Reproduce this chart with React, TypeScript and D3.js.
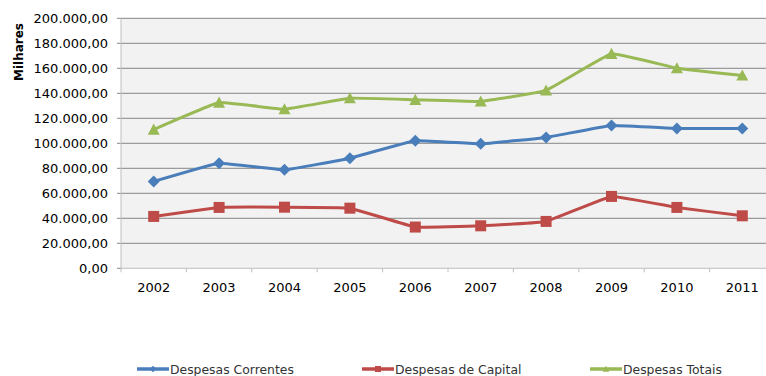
import React from "react";
import * as d3 from "d3";

const years = ["2002", "2003", "2004", "2005", "2006", "2007", "2008", "2009", "2010", "2011"];
const correntes = [69500, 84100, 78800, 88100, 102000, 99600, 104700, 114300, 111900, 111900];
const capital = [41500, 48700, 48900, 48100, 33000, 34000, 37500, 57500, 48700, 42000];
const totais = [111000, 132600, 127300, 136100, 134800, 133500, 142300, 171600, 160100, 154300];
const yTicks = [0, 20000, 40000, 60000, 80000, 100000, 120000, 140000, 160000, 180000, 200000];
const seriesNames = ["Despesas Correntes", "Despesas de Capital", "Despesas Totais"];

const W = 766, H = 376;
const left = 121, top = 18.3, bottom = 268.3, bandW = 65.4;

const fmt = (v: number) => {
  const s = Math.round(v).toString().replace(/\B(?=(\d{3})+(?!\d))/g, ".");
  return s + ",00";
};

function Marker({ type, x, y, color, s = 1 }: { type: string; x: number; y: number; color: string; s?: number }) {
  if (type === "diamond") {
    const r = 6 * s;
    return <path d={`M${x},${y - r}L${x + r},${y}L${x},${y + r}L${x - r},${y}Z`} fill={color} />;
  }
  if (type === "square") {
    const r = 5.5 * s;
    return <rect x={x - r} y={y - r} width={2 * r} height={2 * r} fill={color} />;
  }
  const r = 6 * s;
  return <path d={`M${x},${y - r}L${x + r},${y + r * 0.85}L${x - r},${y + r * 0.85}Z`} fill={color} />;
}

export default function App() {
  const x = d3.scaleBand<string>().domain(years).range([left, left + bandW * years.length]);
  const y = d3.scaleLinear().domain([0, 200000]).range([bottom, top]);
  const line = d3
    .line<number>()
    .x((_, i) => (x(years[i]) as number) + x.bandwidth() / 2)
    .y((d) => y(d))
    .curve(d3.curveCardinal.tension(0.75));

  const series = [
    { name: seriesNames[0], data: correntes, color: "#4A7EBB", marker: "diamond" },
    { name: seriesNames[1], data: capital, color: "#BE4B48", marker: "square" },
    { name: seriesNames[2], data: totais, color: "#98B954", marker: "triangle" },
  ];
  const legendX = [137, 362, 590];
  const font = "Verdana, 'DejaVu Sans', sans-serif";

  return (
    <svg width={W} height={H} style={{ position: "absolute", left: 0, top: 0, background: "#fff" }}>
      <rect x={left} y={top} width={bandW * years.length} height={bottom - top} fill="#F2F2F2" />
      {yTicks.map((t) => (
        <g key={t}>
          {t > 0 && (
            <line x1={left} x2={left + bandW * years.length} y1={y(t)} y2={y(t)} stroke="#868686" strokeWidth={1} />
          )}
          <line x1={left - 4} x2={left} y1={y(t)} y2={y(t)} stroke="#868686" strokeWidth={1} />
          <text x={108} y={y(t) + 4.5} textAnchor="end" fontFamily={font} fontSize={13} fill="#000">
            {fmt(t)}
          </text>
        </g>
      ))}
      <line x1={left} x2={left} y1={top} y2={bottom + 4} stroke="#BFBFBF" strokeWidth={1} />
      <line x1={left} x2={left + bandW * years.length} y1={bottom} y2={bottom} stroke="#BFBFBF" strokeWidth={1} />
      {years.map((yr) => (
        <g key={yr}>
          <line
            x1={(x(yr) as number) + bandW}
            x2={(x(yr) as number) + bandW}
            y1={bottom}
            y2={bottom + 4}
            stroke="#BFBFBF"
          />
          <text
            x={(x(yr) as number) + x.bandwidth() / 2}
            y={292}
            textAnchor="middle"
            fontFamily={font}
            fontSize={13}
            fill="#000"
          >
            {yr}
          </text>
        </g>
      ))}
      <text
        transform="translate(23,52) rotate(-90)"
        textAnchor="middle"
        fontFamily={font}
        fontSize={12}
        fontWeight="bold"
        fill="#000"
      >
        Milhares
      </text>
      {series.map((s) => (
        <g key={s.name}>
          <path d={line(s.data) || ""} fill="none" stroke={s.color} strokeWidth={3} strokeLinejoin="round" />
          {s.data.map((v, i) => (
            <Marker
              key={i}
              type={s.marker}
              x={(x(years[i]) as number) + x.bandwidth() / 2}
              y={y(v)}
              color={s.color}
            />
          ))}
        </g>
      ))}
      {series.map((s, i) => (
        <g key={"leg" + i}>
          <line x1={legendX[i]} x2={legendX[i] + 32} y1={369} y2={369} stroke={s.color} strokeWidth={3.5} />
          <Marker type={s.marker} x={legendX[i] + 16} y={369} color={s.color} s={0.55} />
          <text x={legendX[i] + 33} y={374} fontFamily={font} fontSize={12.4} fill="#333">
            {s.name}
          </text>
        </g>
      ))}
    </svg>
  );
}
